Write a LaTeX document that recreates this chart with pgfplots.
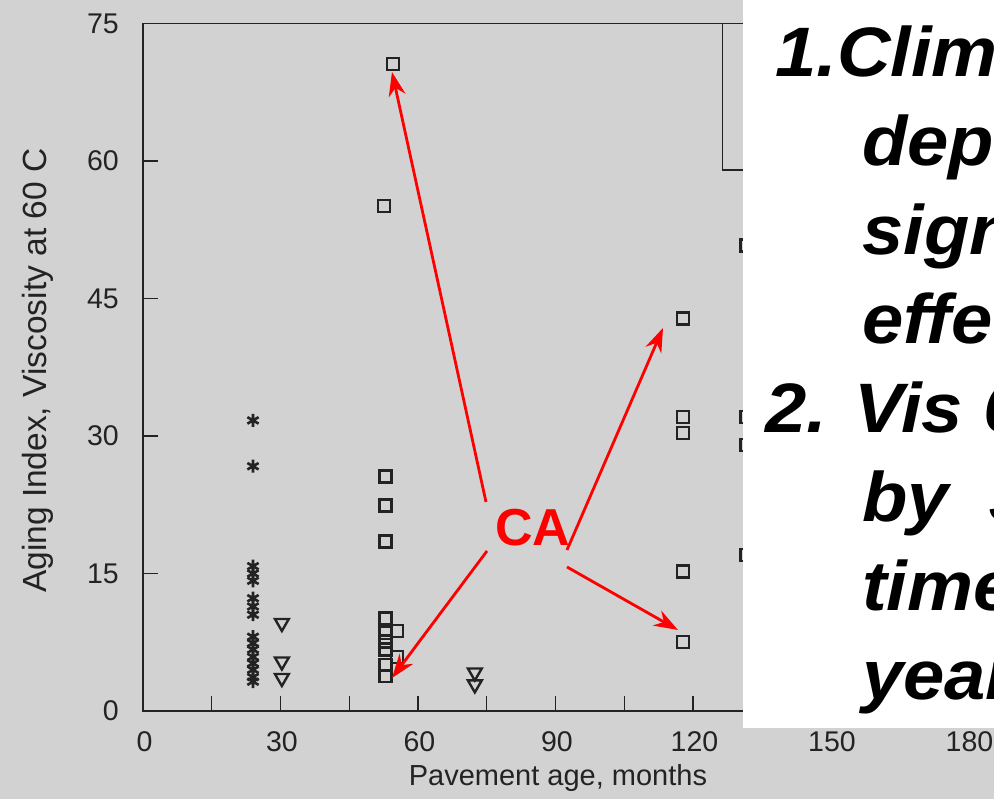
\documentclass[border=0pt]{standalone}
\usepackage{fontspec}
\setmainfont{Liberation Sans}
\newfontfamily\slidefont{Liberation Sans}
\usepackage{pgfplots}
\pgfplotsset{compat=1.18}
\usetikzlibrary{arrows.meta}
\definecolor{bg}{RGB}{210,210,210}
\definecolor{ink}{RGB}{35,35,35}
\begin{document}
\begin{tikzpicture}[x=1pt,y=1pt]
\useasboundingbox (0,0) rectangle (994,799);
\clip (0,0) rectangle (994,799);
\fill[bg] (0,0) rectangle (994,799);
\begin{axis}[
  at={(143pt,88pt)}, anchor=south west,
  scale only axis, width=825pt, height=687.5pt,
  xmin=0, xmax=180, ymin=0, ymax=75,
  axis line style={ink, line width=1.6pt},
  tick style={ink, line width=1.3pt},
  major tick length=15pt,
  tick align=inside, xtick pos=bottom, ytick pos=left,
  xtick={0,15,...,180},
  xticklabels={0,,30,,60,,90,,120,,150,,180},
  ytick={0,15,...,75},
  /pgf/number format/assume math mode=true,
  every tick label/.append style={font=\fontsize{28.5}{34}\selectfont, text=ink, inner sep=0pt},
  xticklabel style={yshift=-20pt, xshift=1.5pt},
  yticklabel style={xshift=-24pt},
  xlabel={Pavement age, months},
  ylabel={Aging Index, Viscosity at 60 C},
  xlabel style={font=\fontsize{29}{35}\selectfont, text=ink, at={(axis description cs:0.503,-0.0975)}, anchor=center},
  ylabel style={font=\fontsize{33.5}{40}\selectfont, text=ink, at={(axis description cs:-0.1273,0.495)}, anchor=center},
  clip=false,
]
\addplot[only marks, mark=asterisk, mark size=6.5pt, mark options={ink, line width=2.6pt}] coordinates {
(24,31.7)(24,26.7)(24,15.8)(24,15.0)(24,14.2)(24,12.3)(24,11.4)(24,10.5)
(24,8.1)(24,7.4)(24,6.7)(24,5.9)(24,5.2)(24,4.5)(24,3.7)(24,3.2)};
\addplot[only marks, mark=triangle, mark size=8pt, mark options={ink, line width=2.4pt, rotate=180}] coordinates {
(30.3,9.6)(30.3,5.4)(30.3,3.6)(72.4,4.2)(72.4,2.9)};
\addplot[only marks, mark=square, mark size=6pt, mark options={ink, line width=2.4pt}] coordinates {
(54.5,70.6)(52.6,55.1)(52.9,25.6)(52.9,22.4)(52.9,18.5)(52.9,10.1)(52.9,8.5)(52.9,7.6)
(52.9,6.7)(52.9,5.0)(52.9,3.8)(55.4,8.7)(55.4,5.9)
(117.8,42.8)(117.8,32.1)(117.8,30.3)(117.8,15.2)(117.8,7.5)
(131.7,50.8)(131.7,32.1)(131.7,29.0)(131.7,17.0)};
\draw[ink, line width=1.4pt] (axis cs:126.5,59) rectangle (axis cs:180,75);
\end{axis}
\begin{scope}[red, line width=2.8pt, -{Stealth[length=24pt,width=17pt]}]
\draw (486,297) -- (392,727);
\draw (487,248) -- (392,121);
\draw (567,249) -- (663,471);
\draw (567,232) -- (678,169);
\end{scope}
\node[text=red, font=\fontsize{52}{60}\selectfont\bfseries] at (533,271) {CA};
\fill[white] (743,71) rectangle (1000,800);
\begin{scope}[every node/.style={anchor=base west, inner sep=0pt, font=\fontsize{70}{84}\slidefont\bfseries\itshape}]
\node at (775,722) {\scalebox{1.06}[1]{1.Climate}};
\node at (862,633) {\scalebox{1.06}[1]{dependent}};
\node at (862,544) {\scalebox{1.06}[1]{significant}};
\node at (862,455) {\scalebox{1.06}[1]{effect}};
\node at (765,366) {\scalebox{1.06}[1]{2. Vis 60C}};
\node at (862,277) {\scalebox{1.06}[1]{by\hspace{0.55em}3}};
\node at (862,188) {\scalebox{1.06}[1]{times}};
\node at (862,99) {\scalebox{1.06}[1]{years}};
\end{scope}
\end{tikzpicture}
\end{document}
